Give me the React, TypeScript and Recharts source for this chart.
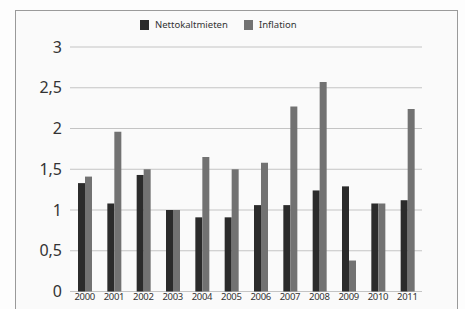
import { Bar, BarChart, CartesianGrid, XAxis, YAxis } from "recharts";

const years = ["2000", "2001", "2002", "2003", "2004", "2005", "2006", "2007", "2008", "2009", "2010", "2011"];
const nettokaltmieten = [1.33, 1.08, 1.43, 1.0, 0.91, 0.91, 1.06, 1.06, 1.24, 1.29, 1.08, 1.12];
const inflation = [1.41, 1.96, 1.5, 1.0, 1.65, 1.5, 1.58, 2.27, 2.57, 0.38, 1.08, 2.24];
const yTicks = [0, 0.5, 1, 1.5, 2, 2.5, 3];

const data = years.map((y, i) => ({
  year: y,
  Nettokaltmieten: nettokaltmieten[i],
  Inflation: inflation[i],
}));

const DARK = "#2b2b2b";
const GRAY = "#727272";
const FONT = "'Noto Sans', 'Open Sans', sans-serif";

function LegendItem({ color, label, x }: { color: string; label: string; x: number }) {
  return (
    <div style={{ position: "absolute", left: x, top: 18, display: "flex", alignItems: "center" }}>
      <div style={{ width: 9, height: 10, background: color }} />
      <span style={{ marginLeft: 6, fontSize: 9.5, color: "#333", fontFamily: FONT }}>{label}</span>
    </div>
  );
}

export default function App() {
  return (
    <div style={{ position: "absolute", left: 0, top: 0, width: 465, height: 309, background: "#fdfdfd", overflow: "hidden" }}>
      <div
        style={{
          position: "absolute",
          left: 15,
          top: 10,
          width: 441,
          height: 310,
          border: "1px solid #9a9a9a",
          background: "#fafafa",
        }}
      />
      <LegendItem color={DARK} label="Nettokaltmieten" x={140} />
      <LegendItem color={GRAY} label="Inflation" x={244} />
      <div style={{ position: "absolute", left: 0, top: 0 }}>
        <BarChart
          width={465}
          height={309}
          data={data}
          margin={{ top: 47, right: 43, bottom: 0, left: 0 }}
          barSize={7}
          barGap={0}
        >
          <CartesianGrid vertical={false} stroke="#c4c4c4" />
          <XAxis
            dataKey="year"
            height={17.5}
            axisLine={false}
            tickLine={false}
            tickSize={0}
            tickMargin={2}
            interval={0}
            tick={{ fontSize: 9.5, fill: "#333", fontFamily: FONT, letterSpacing: -0.3 }}
          />
          <YAxis
            width={70}
            domain={[0, 3]}
            ticks={yTicks}
            axisLine={false}
            tickLine={false}
            tick={{ fontSize: 16, fill: "#333", fontFamily: FONT }}
            tickFormatter={(v: number) => String(v).replace(".", ",")}
          />
          <Bar dataKey="Nettokaltmieten" fill={DARK} isAnimationActive={false} />
          <Bar dataKey="Inflation" fill={GRAY} isAnimationActive={false} />
        </BarChart>
      </div>
    </div>
  );
}
